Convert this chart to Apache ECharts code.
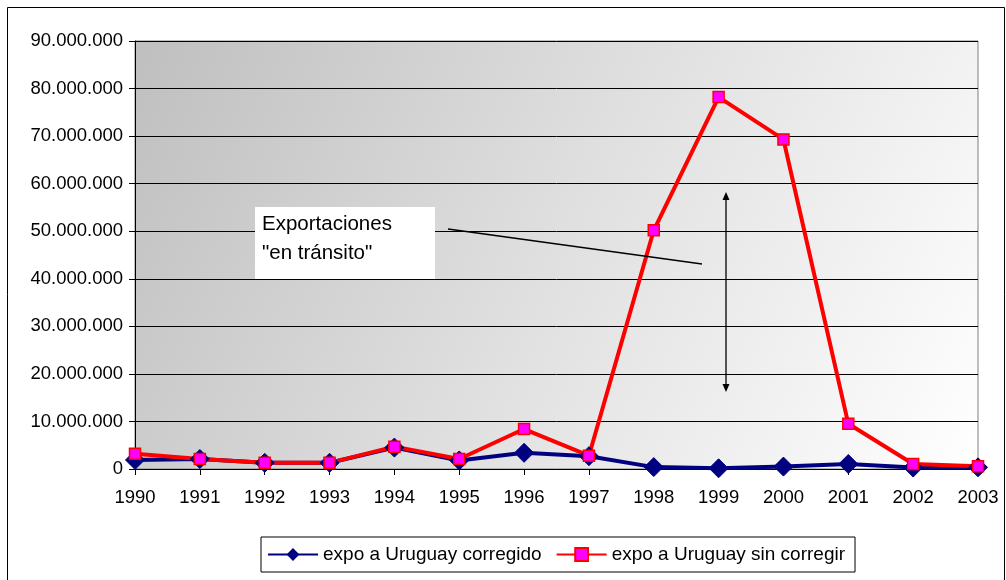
<!DOCTYPE html>
<html>
<head>
<meta charset="utf-8">
<script src="https://cdn.jsdelivr.net/npm/echarts@6/dist/echarts.min.js"></script>
<style>
  html, body { margin: 0; padding: 0; background: #fff; }
  #chart { width: 1006px; height: 580px; }
</style>
</head>
<body>
<div id="chart"></div>
<script>
const years = ['1990', '1991', '1992', '1993', '1994', '1995', '1996', '1997', '1998', '1999', '2000', '2001', '2002', '2003']
const corregido = [1900000, 2100000, 1300000, 1300000, 4500000, 1800000, 3400000, 2700000, 400000, 150000, 500000, 1050000, 300000, 350000]
const sinCorregir = [3200000, 2100000, 1300000, 1300000, 4700000, 2100000, 8400000, 2800000, 50200000, 78200000, 69300000, 9500000, 1050000, 600000]

const font = 'Liberation Sans, Arial, sans-serif'

function fmt(v) {
  return String(v).replace(/\B(?=(\d{3})+(?!\d))/g, '.')
}

const chart = echarts.init(document.getElementById('chart'))
chart.setOption({
  animation: false,
  textStyle: { fontFamily: font },
  grid: {
    left: 135, top: 41, right: 28, bottom: 111,
    show: true,
    borderColor: '#808080',
    borderWidth: 1,
    backgroundColor: new echarts.graphic.LinearGradient(0, 0, 1, 1, [
      { offset: 0, color: '#bfbfbf' },
      { offset: 0.5, color: '#e0e0e0' },
      { offset: 1, color: '#ffffff' }
    ])
  },
  legend: {
    left: 261, top: 537,
    padding: [8, 10, 8, 6],
    itemGap: 14,
    itemWidth: 50,
    itemHeight: 16,
    backgroundColor: '#fff',
    borderColor: '#000',
    borderWidth: 1,
    textStyle: { fontSize: 19, color: '#000', fontFamily: font },
    data: ['expo a Uruguay corregido', 'expo a Uruguay sin corregir']
  },
  xAxis: {
    type: 'category',
    data: years,
    boundaryGap: false,
    axisLine: { lineStyle: { color: '#000' } },
    axisTick: { show: true, length: 6, lineStyle: { color: '#000' } },
    axisLabel: { fontSize: 18.5, color: '#000', margin: 19, fontFamily: font },
    splitLine: { show: false }
  },
  yAxis: {
    type: 'value',
    min: 0, max: 90000000, interval: 10000000,
    axisLine: { show: true, lineStyle: { color: '#000' } },
    axisTick: { show: true, length: 6, lineStyle: { color: '#000' } },
    axisLabel: { fontSize: 18.5, color: '#000', margin: 12, fontFamily: font, formatter: fmt },
    splitLine: { lineStyle: { color: '#000', width: 1 } }
  },
  series: [
    {
      name: 'expo a Uruguay corregido',
      type: 'line',
      data: corregido,
      symbol: 'diamond',
      symbolSize: 19,
      lineStyle: { color: '#000080', width: 4 },
      itemStyle: { color: '#000080', borderColor: '#000080' }
    },
    {
      name: 'expo a Uruguay sin corregir',
      type: 'line',
      data: sinCorregir,
      symbol: 'rect',
      symbolSize: 11,
      lineStyle: { color: '#ff0000', width: 4 },
      itemStyle: { color: '#ff00ff', borderColor: '#ff0000', borderWidth: 1.5 }
    }
  ],
  graphic: [
    { type: 'rect', left: 5, top: 5, shape: { width: 997, height: 580 }, style: { fill: 'none', stroke: '#000', lineWidth: 1 }, silent: true, z: 100 },
    { type: 'rect', shape: { x: 255, y: 207, width: 180, height: 72 }, style: { fill: '#fff' }, z: 50 },
    { type: 'text', x: 262, y: 210, style: { text: 'Exportaciones\n"en tránsito"', font: '20.5px ' + font, fill: '#000', lineHeight: 29 }, z: 51 },
    { type: 'line', shape: { x1: 448, y1: 229, x2: 702, y2: 264 }, style: { stroke: '#000', lineWidth: 1.3 }, z: 50 },
    { type: 'line', shape: { x1: 726, y1: 195, x2: 726, y2: 389 }, style: { stroke: '#000', lineWidth: 1.3 }, z: 50 },
    { type: 'polygon', shape: { points: [[726, 192], [722.5, 200], [729.5, 200]] }, style: { fill: '#000' }, z: 50 },
    { type: 'polygon', shape: { points: [[726, 392], [722.5, 384], [729.5, 384]] }, style: { fill: '#000' }, z: 50 }
  ]
})
</script>
</body>
</html>
